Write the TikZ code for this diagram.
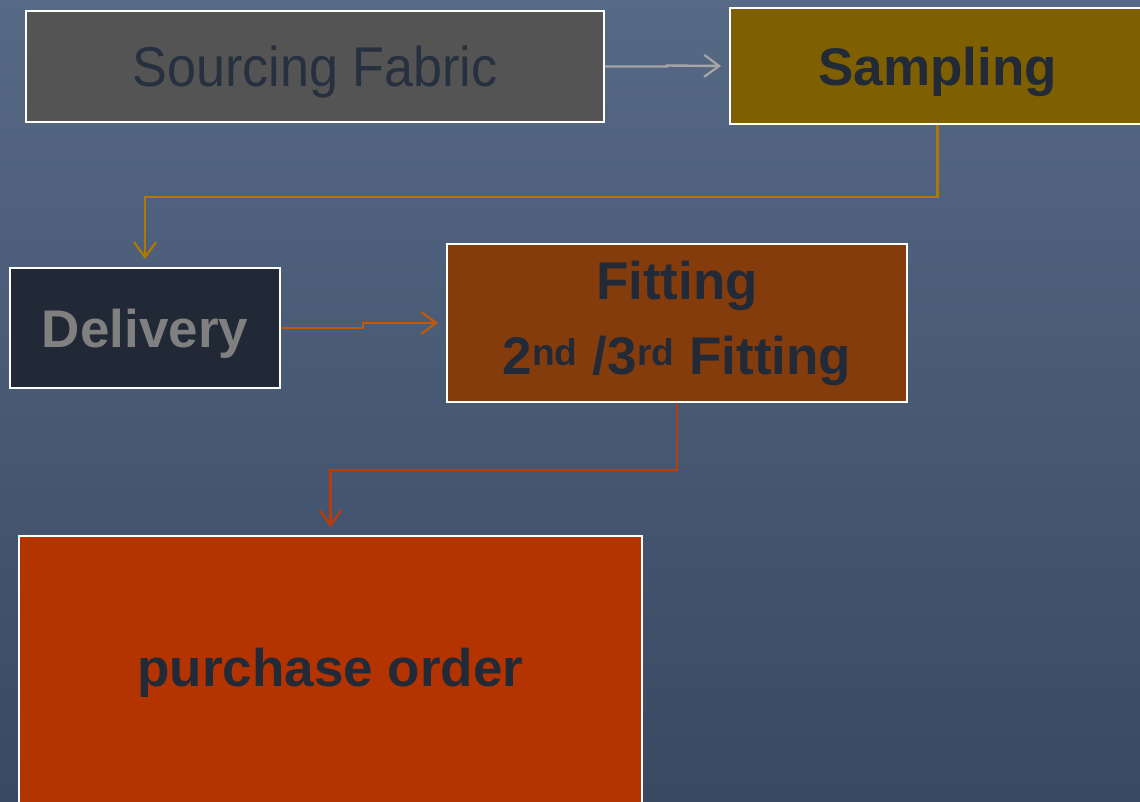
\documentclass[tikz,border=0pt]{standalone}
\usepackage{fontspec}
\setmainfont{Liberation Sans}
\usetikzlibrary{arrows.meta}
\definecolor{bgtop}{HTML}{566985}
\definecolor{bgbot}{HTML}{3A4962}
\definecolor{srcfill}{HTML}{545454}
\definecolor{srctext}{HTML}{26303E}
\definecolor{smpfill}{HTML}{7F6000}
\definecolor{delfill}{HTML}{212936}
\definecolor{deltext}{HTML}{808080}
\definecolor{fitfill}{HTML}{843C0C}
\definecolor{pofill}{HTML}{B33400}
\definecolor{darktext}{HTML}{222A38}
\definecolor{arrgray}{HTML}{A6A6A6}
\definecolor{arrgold}{HTML}{B07800}
\definecolor{arrorange}{HTML}{C05A08}
\definecolor{arrred}{HTML}{B83D0A}
\tikzset{
  box/.style={draw=white, line width=2pt, inner sep=0pt, rectangle},
  boldlabel/.style={font=\fontsize{53}{75}\selectfont\bfseries, text=darktext},
  conn/.style={line width=2.4pt, -{Straight Barb[length=15pt,width=22pt,line width=2.2pt]}},
}
\begin{document}
\begin{tikzpicture}[x=1pt,y=-1pt]
\useasboundingbox (0,0) rectangle (1140,801);
\clip (0,0) rectangle (1140,801);
\shade[top color=bgtop, bottom color=bgbot] (0,0) rectangle (1140,801);

\node[box, fill=srcfill, minimum width=578pt, minimum height=111pt, text depth=0pt,
      font=\fontsize{56}{60}\selectfont, text=srctext] (src) at (315,66.5)
      {\scalebox{0.93}[1]{Sourcing Fabric}};
\node[box, fill=smpfill, minimum width=415pt, minimum height=116pt, text depth=0pt, boldlabel] (smp) at (937.5,66) {Sampling};
\node[box, fill=delfill, minimum width=270pt, minimum height=120pt, text depth=0pt,
      font=\fontsize{53}{60}\selectfont\bfseries, text=deltext] (del) at (145,328) {Delivery};
\node[box, fill=fitfill, minimum width=460pt, minimum height=158pt, boldlabel, align=center] (fit) at (677,323)
      {Fitting\\2\textsuperscript{nd} /3\textsuperscript{rd} Fitting};
\node[box, fill=pofill, minimum width=623pt, minimum height=274pt, boldlabel] (po) at (330.5,673)
      {\raisebox{5pt}{purchase order}};

\coordinate (smpin) at ([xshift=-8pt]smp.west);
\coordinate (delin) at ([yshift=8pt]del.north);
\coordinate (fitin) at ([xshift=-8pt]fit.west);
\coordinate (poin) at ([yshift=8pt]po.north);

\draw[conn, draw=arrgray] (src.east) -- ++(62,0) -- ++(0,-1) -- (smpin);
\draw[conn, draw=arrgold] (smp.south) -- ++(0,72) -| (delin);
\draw[conn, draw=arrorange] (del.east) -- ++(82,0) -- ++(0,-5) -- (fitin);
\draw[conn, draw=arrred] (fit.south) -- ++(0,67) -| (poin);
\end{tikzpicture}
\end{document}
